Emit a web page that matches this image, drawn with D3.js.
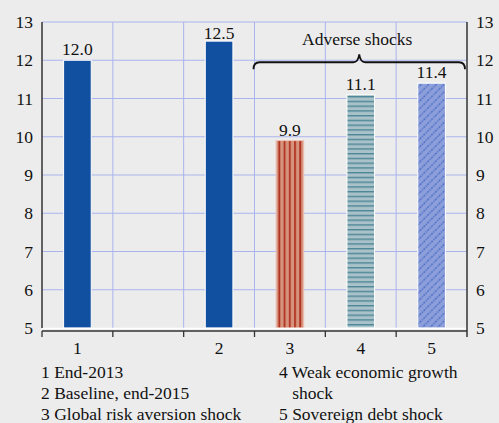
<!DOCTYPE html>
<html>
<head>
<meta charset="utf-8">
<script src="https://cdn.jsdelivr.net/npm/d3@7"></script>
<style>
  html, body { margin: 0; padding: 0; background: #ececec; }
  svg { display: block; }
</style>
</head>
<body>
<svg id="chart" width="499" height="423"></svg>
<script>
// Slots along the x axis (one empty slot between scenario 1 and 2)
const slots = ["1", "gap", "2", "3", "4", "5"];
const categories = ["1", "2", "3", "4", "5"];
const values = [12.0, 12.5, 9.9, 11.1, 11.4];
const fills = ["solid", "solid", "vstripe", "hstripe", "diag"];
const yTicks = [5, 6, 7, 8, 9, 10, 11, 12, 13];
const legendLeft = ["1 End-2013", "2 Baseline, end-2015", "3 Global risk aversion shock"];
const legendRight = ["4 Weak economic growth", "   shock", "5 Sovereign debt shock"];
const bracketLabel = "Adverse shocks";

const FONT = "'Liberation Serif', Tinos, 'Times New Roman'";
const FS = 17.5;
const svg = d3.select("#chart");
const L = 42, R = 467, T = 22, B = 328;

const x = d3.scaleBand().domain(slots).range([L, R]).padding(0);
const y = d3.scaleLinear().domain([5, 13]).range([B, T]);

function label(sel) {
  return sel.style("font-family", FONT).attr("font-size", FS).attr("fill", "#111");
}

// Patterns
const defs = svg.append("defs");
const pv = defs.append("pattern").attr("id", "vstripe").attr("patternUnits", "userSpaceOnUse")
  .attr("width", 5.2).attr("height", 10).attr("x", 277.5);
pv.append("rect").attr("width", 5.2).attr("height", 10).attr("fill", "#d6937d");
pv.append("rect").attr("x", 1).attr("width", 1.8).attr("height", 10).attr("fill", "#b0301f");

const ph = defs.append("pattern").attr("id", "hstripe").attr("patternUnits", "userSpaceOnUse")
  .attr("width", 10).attr("height", 4.75).attr("y", 1);
ph.append("rect").attr("width", 10).attr("height", 4.75).attr("fill", "#a9c1c8");
ph.append("rect").attr("y", 0).attr("width", 10).attr("height", 1.4).attr("fill", "#4e8797");

const pd = defs.append("pattern").attr("id", "diag").attr("patternUnits", "userSpaceOnUse")
  .attr("width", 5.4).attr("height", 5.4).attr("patternTransform", "rotate(45)");
pd.append("rect").attr("width", 5.4).attr("height", 5.4).attr("fill", "#8c9fda");
pd.append("line").attr("x1", 1).attr("x2", 1).attr("y1", 0).attr("y2", 5.4)
  .attr("stroke", "#3559c0").attr("stroke-width", 1.1).attr("stroke-dasharray", "1.3,1.1");

// Grid
const grid = svg.append("g").attr("stroke", "#aab4ee").attr("stroke-width", 1);
grid.selectAll("line.h").data(yTicks.filter(d => d > 5)).join("line")
  .attr("x1", L).attr("x2", R).attr("y1", d => y(d)).attr("y2", d => y(d));
grid.selectAll("line.v").data(slots.slice(1)).join("line")
  .attr("x1", d => x(d)).attr("x2", d => x(d)).attr("y1", T).attr("y2", B);

// Bars
const bw = x.bandwidth() * 0.39;
const cx = c => x(c) + x.bandwidth() / 2;
svg.append("g").selectAll("rect").data(categories).join("rect")
  .attr("x", c => cx(c) - bw / 2)
  .attr("width", bw)
  .attr("y", (c, i) => y(values[i]))
  .attr("height", (c, i) => y(5) - y(values[i]))
  .attr("fill", (c, i) => fills[i] === "solid" ? "#1150a0" : `url(#${fills[i]})`)
  .attr("stroke", (c, i) => fills[i] === "vstripe" ? "#eec3b6" : "#ffffff")
  .attr("stroke-width", 1);

// Value labels (kept inside the plot frame)
svg.append("g").selectAll("text").data(categories).join("text")
  .attr("x", c => cx(c))
  .attr("y", (c, i) => Math.max(y(values[i]) - 5, T + 16.5))
  .attr("text-anchor", "middle")
  .call(label)
  .text((c, i) => values[i].toFixed(1));

// Baseline (white) and axes
svg.append("line").attr("x1", L).attr("x2", R).attr("y1", B + 0.5).attr("y2", B + 0.5)
  .attr("stroke", "#ffffff").attr("stroke-width", 1.5);
svg.append("line").attr("x1", L).attr("x2", L).attr("y1", T).attr("y2", B)
  .attr("stroke", "#333").attr("stroke-width", 1.5);
svg.append("line").attr("x1", R).attr("x2", R).attr("y1", T).attr("y2", B + 9)
  .attr("stroke", "#333").attr("stroke-width", 1.5);

const xAxisY = B + 3;
const xa = svg.append("g").attr("stroke", "#333").attr("stroke-width", 1.3);
xa.append("line").attr("x1", L).attr("x2", R).attr("y1", xAxisY).attr("y2", xAxisY);
xa.selectAll("line.t").data(slots).join("line")
  .attr("x1", d => x(d)).attr("x2", d => x(d)).attr("y1", xAxisY).attr("y2", xAxisY + 6);

svg.append("g").selectAll("text").data(categories).join("text")
  .attr("x", c => cx(c))
  .attr("y", 354).attr("text-anchor", "middle")
  .call(label)
  .text(c => c);

// Y tick labels on both sides
svg.append("g").selectAll("text").data(yTicks).join("text")
  .attr("x", 33).attr("y", d => y(d) + 6).attr("text-anchor", "end")
  .call(label).text(d => d);
svg.append("g").selectAll("text").data(yTicks).join("text")
  .attr("x", 476).attr("y", d => y(d) + 6).attr("text-anchor", "start")
  .call(label).text(d => d);

// Bracket over the adverse shock scenarios
const bx0 = x("3") - 1, bx1 = x.range()[1] - 2;
const bm = (bx0 + bx1) / 2;
const by = y(12) + 2;
const br = d3.path();
br.moveTo(bx0, by + 7);
br.quadraticCurveTo(bx0, by, bx0 + 6, by);
br.lineTo(bm - 6, by);
br.quadraticCurveTo(bm - 1, by, bm, by - 8);
br.quadraticCurveTo(bm + 1, by, bm + 6, by);
br.lineTo(bx1 - 6, by);
br.quadraticCurveTo(bx1, by, bx1, by + 7);
svg.append("path").attr("d", br.toString()).attr("fill", "none")
  .attr("stroke", "#111").attr("stroke-width", 1.8);
svg.append("text").attr("x", bm - 2).attr("y", 45).attr("text-anchor", "middle")
  .call(label).text(bracketLabel);

// Legend
svg.append("g").selectAll("text").data(legendLeft).join("text")
  .attr("x", 41).attr("y", (d, i) => 378 + i * 21)
  .call(label).text(d => d);
svg.append("g").selectAll("text").data(legendRight).join("text")
  .attr("x", 279).attr("y", (d, i) => 378 + i * 21)
  .call(label).style("white-space", "pre")
  .text(d => d);
</script>
</body>
</html>
